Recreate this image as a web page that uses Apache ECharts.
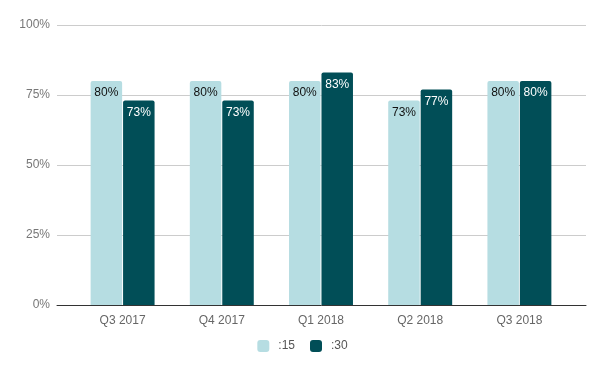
<!DOCTYPE html>
<html><head><meta charset="utf-8">
<script src="https://cdn.jsdelivr.net/npm/echarts@6/dist/echarts.min.js"></script>
<style>html,body{margin:0;padding:0;background:#fff}#c{width:605px;height:371px}</style>
</head><body><div id="c"></div>
<script>
const categories = ['Q3 2017','Q4 2017','Q1 2018','Q2 2018','Q3 2018'];
const s15 = [80, 80, 80, 73, 80];
const s30 = [73, 73, 83, 77, 80];
const seriesNames = [':15', ':30'];

const font = 'Arial, "Liberation Sans", sans-serif';
const chart = echarts.init(document.getElementById('c'));
chart.setOption({
  animation: false,
  textStyle: {fontFamily: font},
  legend: {
    bottom: 14, left: 'center', icon: 'roundRect', itemWidth: 12, itemHeight: 12, itemGap: 15,
    textStyle: {color: '#555', fontSize: 12, fontFamily: font, padding: [0, 0, 0, 4]},
    data: seriesNames
  },
  grid: [
    {left: 57, right: 19, top: 25, bottom: 66},
    {left: 73, right: 36, top: 25, bottom: 66}
  ],
  xAxis: [
    {gridIndex: 0, type: 'value', min: 0, max: 1, z: 5,
     axisLine: {show: true, onZero: false, lineStyle: {color: '#333', width: 1}},
     axisTick: {show: false}, axisLabel: {show: false}, splitLine: {show: false}},
    {gridIndex: 1, type: 'category', data: categories,
     axisLine: {show: false}, axisTick: {show: false},
     axisLabel: {color: '#666', fontSize: 12, margin: 10, fontFamily: font}}
  ],
  yAxis: [
    {gridIndex: 0, type: 'value', min: 0, max: 100, interval: 25,
     axisLine: {show: false}, axisTick: {show: false},
     axisLabel: {formatter: '{value}%', color: '#777', fontSize: 12, margin: 7, fontFamily: font},
     splitLine: {lineStyle: {color: '#ccc', width: 1}}},
    {gridIndex: 1, type: 'value', min: 0, max: 100, show: false}
  ],
  series: [
    {name: seriesNames[0], type: 'bar', xAxisIndex: 1, yAxisIndex: 1, data: s15,
     barWidth: 31.5, barGap: '3%',
     itemStyle: {color: '#b6dde2', borderRadius: [2,2,0,0]},
     label: {show: true, position: 'insideTop', distance: 6, formatter: '{c}%', color: '#111', fontSize: 12, fontFamily: font}},
    {name: seriesNames[1], type: 'bar', xAxisIndex: 1, yAxisIndex: 1, data: s30,
     barWidth: 31.5, barGap: '3%',
     itemStyle: {color: '#014e57', borderRadius: [2,2,0,0]},
     label: {show: true, position: 'insideTop', distance: 6, formatter: '{c}%', color: '#fff', fontSize: 12, fontFamily: font}}
  ]
});
</script></body></html>
